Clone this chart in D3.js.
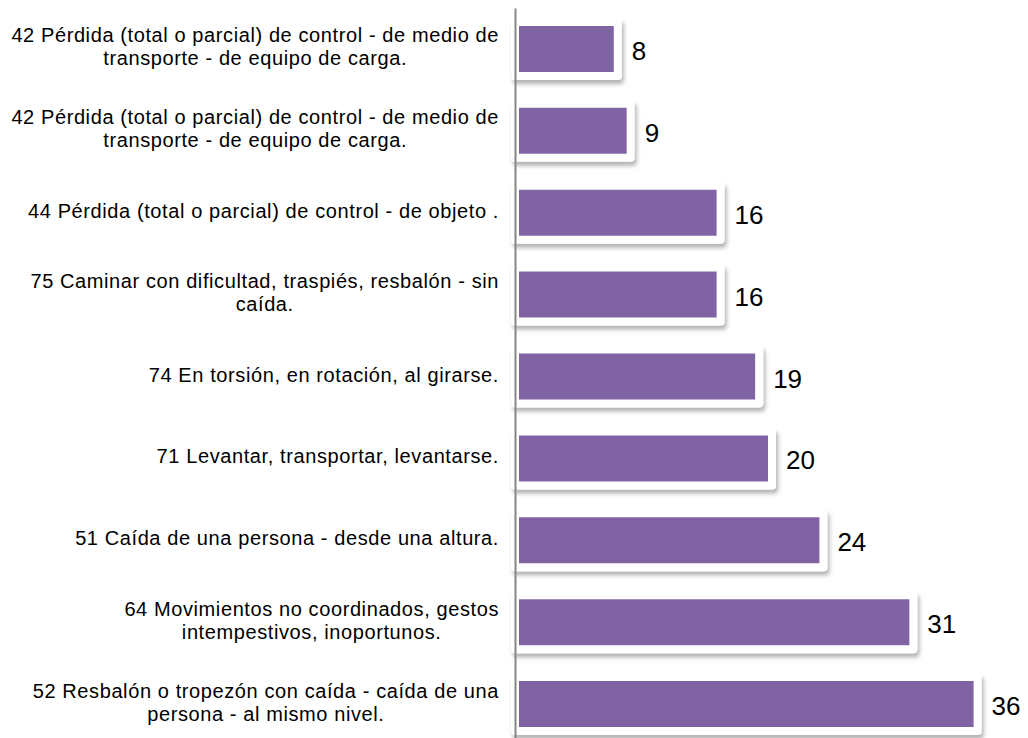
<!DOCTYPE html>
<html>
<head>
<meta charset="utf-8">
<script src="https://cdn.jsdelivr.net/npm/d3@7"></script>
<style>
  body { margin: 0; background: #fff; }
  text { font-family: "Liberation Sans", Arial, sans-serif; fill: #000; }
</style>
</head>
<body>
<div id="chart"></div>
<script>
// categories top to bottom, "\n" marks the wrap
const categories = [
  "42 Pérdida (total o parcial) de control - de medio de\ntransporte - de equipo de carga.",
  "42 Pérdida (total o parcial) de control - de medio de\ntransporte - de equipo de carga.",
  "44 Pérdida (total o parcial) de control - de objeto .",
  "75 Caminar con dificultad, traspiés, resbalón - sin\ncaída.",
  "74 En torsión, en rotación, al girarse.",
  "71 Levantar, transportar, levantarse.",
  "51 Caída de una persona - desde una altura.",
  "64 Movimientos no coordinados, gestos\nintempestivos, inoportunos.",
  "52 Resbalón o tropezón con caída - caída de una\npersona - al mismo nivel."
];
const values = [8, 9, 16, 16, 19, 20, 24, 31, 36];

const width = 1028, height = 738;
const svg = d3.select("#chart").append("svg")
  .attr("width", width)
  .attr("height", height);

const defs = svg.append("defs");
defs.append("filter")
  .attr("id", "shadow")
  .attr("x", "-5%").attr("y", "-20%")
  .attr("width", "115%").attr("height", "160%")
  .append("feDropShadow")
  .attr("dx", 2).attr("dy", 4)
  .attr("stdDeviation", 2.2)
  .attr("flood-color", "#000")
  .attr("flood-opacity", 0.3);

const x = d3.scaleLinear().domain([0, 40]).range([515, 1029]);
const y = d3.scaleBand().domain(d3.range(categories.length)).range([8, 745]);
const barH = 54;

// bars: purple fill with thick white border + shadow
svg.selectAll(".bar")
  .data(values)
  .enter()
  .append("rect")
  .attr("class", "bar")
  .attr("x", x(0))
  .attr("y", (d, i) => y(i) + y.bandwidth() / 2 - barH / 2)
  .attr("width", d => x(d) - x(0))
  .attr("height", barH)
  .attr("fill", "#8064A2")
  .attr("stroke", "#fff")
  .attr("stroke-width", 8)
  .attr("stroke-linejoin", "round")
  .attr("filter", "url(#shadow)");

// value labels
svg.selectAll(".val")
  .data(values)
  .enter()
  .append("text")
  .attr("class", "val")
  .attr("font-size", 26)
  .attr("y", (d, i) => y(i) + y.bandwidth() / 2 + 11)
  .text(d => d)
  .each(function (d) {
    const w = this.getComputedTextLength();
    let px = x(d) + 14;
    if (px + w > 1023) px = 1023 - w;
    d3.select(this).attr("x", px);
  });

// category axis line
svg.append("g")
  .attr("transform", `translate(${x(0)},0)`)
  .call(d3.axisLeft(y).tickSize(0).tickFormat(""))
  .call(g => g.select(".domain").attr("stroke", "#868686").attr("stroke-width", 2));

// category labels: lines centered within a block, block right-aligned
const lineH = 23;
svg.selectAll(".cat")
  .data(categories)
  .enter()
  .append("text")
  .attr("class", "cat")
  .attr("font-size", 20)
  .attr("letter-spacing", 0.6)
  .attr("text-anchor", "middle")
  .each(function (d, i) {
    const lines = d.split("\n");
    const t = d3.select(this);
    const cy = y(i) + y.bandwidth() / 2;
    const y0 = cy - (lines.length - 1) * lineH / 2 + 5;
    const spans = lines.map((s, k) =>
      t.append("tspan").attr("y", y0 + k * lineH).text(s));
    const maxW = d3.max(spans, s => s.node().getComputedTextLength());
    spans.forEach(s => s.attr("x", 499 - maxW / 2));
  });
</script>
</body>
</html>
